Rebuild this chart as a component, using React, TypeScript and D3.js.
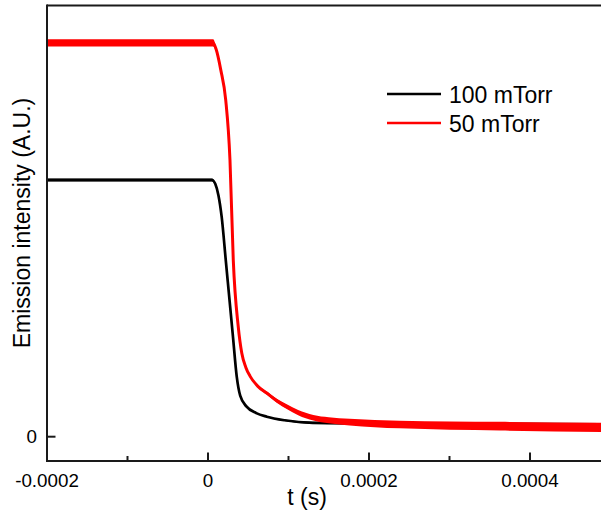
import React from 'react';
import * as d3 from 'd3';

const W = 601;
const H = 514;

// time in microseconds, intensity in arbitrary units (black plateau = 1)
const blackT = [-200, 5, 9, 13, 17, 22, 27, 31, 35.7, 40, 48, 60, 73, 95, 130, 190, 300, 490];
const blackV = [1, 1, 0.985, 0.94, 0.856, 0.69, 0.523, 0.39, 0.234, 0.16, 0.117, 0.092, 0.078, 0.064, 0.054, 0.052, 0.05, 0.047];
const blackNoise = [0.006, 0.006, 0.003, 0, 0, 0, 0, 0, 0, 0, 0, 0.001, 0.002, 0.003, 0.004, 0.005, 0.006, 0.006];

const redT = [-200, 6.5, 10, 15.8, 22, 27.3, 31.4, 37.6, 42, 47, 52.2, 62, 72.9, 85, 97.8, 112, 130.9, 150, 176, 238, 363, 490];
const redV = [1.534, 1.534, 1.51, 1.43, 1.312, 1.078, 0.688, 0.428, 0.325, 0.27, 0.236, 0.196, 0.17, 0.141, 0.117, 0.094, 0.074, 0.064, 0.057, 0.0475, 0.041, 0.036];
const redNoise = [0.014, 0.014, 0.008, 0, 0, 0, 0, 0, 0, 0.001, 0.002, 0.004, 0.006, 0.008, 0.009, 0.01, 0.011, 0.012, 0.013, 0.015, 0.017, 0.018];

const xMajor = [-0.0002, 0, 0.0002, 0.0004];
const xMinor = [-0.0001, 0.0001, 0.0003];
const yMajor = [0];

const seriesNames = ['100 mTorr', '50 mTorr'];
const seriesColors = ['#000000', '#ff0000'];

const FONT = 'Arial, "Liberation Sans", sans-serif';

export default function App() {
  const x = d3.scaleLinear().domain([-0.0002, 0.0004]).range([47, 530]);
  const y = d3.scaleLinear().domain([0, 1]).range([436.7, 180]);
  const left = 47, right = 602, top = 5.5, bottom = 461;

  const mk = (T: number[], V: number[], N: number[]) =>
    T.map((t, i) => ({ t: t * 1e-6, v: V[i], n: N[i] }));
  const series = [mk(blackT, blackV, blackNoise), mk(redT, redV, redNoise)];

  const line = d3.line<any>().x(d => x(d.t)).y(d => y(d.v)).curve(d3.curveMonotoneX);
  const area = d3.area<any>().x(d => x(d.t)).y0(d => y(d.v - d.n)).y1(d => y(d.v + d.n)).curve(d3.curveMonotoneX);
  const widths = [2.7, 3];

  const fmt = (v: number) => (v === 0 ? '0' : String(+v.toFixed(4)));

  return (
    <svg width={W} height={H} style={{ position: 'absolute', left: 0, top: 0 }} fontFamily={FONT}>
      <rect x={0} y={0} width={W} height={H} fill="#fff" />
      <defs>
        <clipPath id="plotclip">
          <rect x={left} y={top} width={right - left} height={bottom - top} />
        </clipPath>
      </defs>
      <g clipPath="url(#plotclip)">
        {series.map((s, i) => (
          <g key={i}>
            <path d={area(s) || ''} fill={seriesColors[i]} />
            <path d={line(s) || ''} fill="none" stroke={seriesColors[i]} strokeWidth={widths[i]} strokeLinejoin="round" />
          </g>
        ))}
      </g>
      {/* frame */}
      <line x1={left} x2={right} y1={top} y2={top} stroke="#1a1a1a" strokeWidth={2} />
      <line x1={left} x2={left} y1={top - 1} y2={bottom + 1} stroke="#1a1a1a" strokeWidth={2} />
      <line x1={left - 1} x2={right} y1={bottom} y2={bottom} stroke="#1a1a1a" strokeWidth={2} />
      {/* x ticks */}
      {xMajor.map(v => (
        <g key={'M' + v}>
          <line x1={x(v)} x2={x(v)} y1={bottom} y2={bottom - 8.5} stroke="#1a1a1a" strokeWidth={2} />
          <text x={x(v)} y={486.5} textAnchor="middle" fontSize={18.8} fill="#000">{fmt(v)}</text>
        </g>
      ))}
      {xMinor.map(v => (
        <line key={'m' + v} x1={x(v)} x2={x(v)} y1={bottom} y2={bottom - 5} stroke="#1a1a1a" strokeWidth={2} />
      ))}
      {/* y ticks */}
      {yMajor.map(v => (
        <g key={'y' + v}>
          <line x1={left} x2={left + 8.5} y1={y(v)} y2={y(v)} stroke="#1a1a1a" strokeWidth={2} />
          <text x={37} y={y(v) + 6.5} textAnchor="end" fontSize={18.8} fill="#000">{fmt(v)}</text>
        </g>
      ))}
      {/* axis titles */}
      <text x={307} y={505} textAnchor="middle" fontSize={23} fill="#000">t (s)</text>
      <text transform={`translate(30,223) rotate(-90)`} textAnchor="middle" fontSize={23} fill="#000">Emission intensity (A.U.)</text>
      {/* legend */}
      {seriesNames.map((n, i) => (
        <g key={n}>
          <line x1={387} x2={441} y1={94 + i * 29} y2={94 + i * 29} stroke={seriesColors[i]} strokeWidth={2.4} />
          <text x={449} y={102.5 + i * 29} fontSize={23} fill="#000">{n}</text>
        </g>
      ))}
    </svg>
  );
}
